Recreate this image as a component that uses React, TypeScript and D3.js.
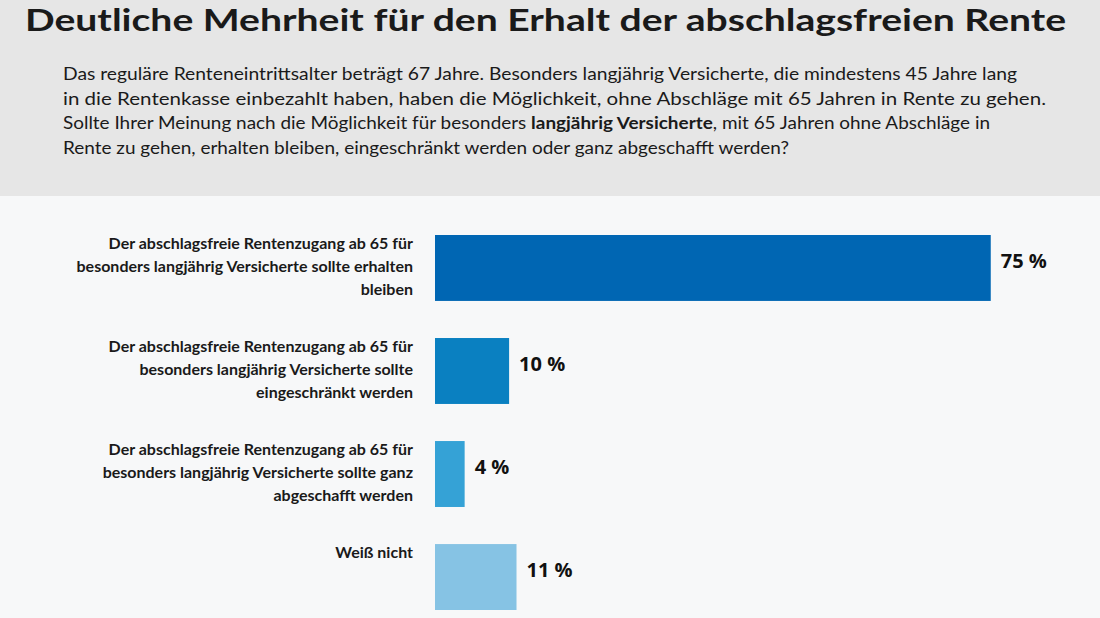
import React from "react";
import * as d3 from "d3";

const title = "Deutliche Mehrheit für den Erhalt der abschlagsfreien Rente";
const subtitleLines: { text: string; bold?: boolean }[][] = [
  [{ text: "Das reguläre Renteneintrittsalter beträgt 67 Jahre. Besonders langjährig Versicherte, die mindestens 45 Jahre lang" }],
  [{ text: "in die Rentenkasse einbezahlt haben, haben die Möglichkeit, ohne Abschläge mit 65 Jahren in Rente zu gehen." }],
  [
    { text: "Sollte Ihrer Meinung nach die Möglichkeit für besonders " },
    { text: "langjährig Versicherte", bold: true },
    { text: ", mit 65 Jahren ohne Abschläge in" },
  ],
  [{ text: "Rente zu gehen, erhalten bleiben, eingeschränkt werden oder ganz abgeschafft werden?" }],
];
const subtitleWidths = [954, 983, 927, 726];

const categories = [
  ["Der abschlagsfreie Rentenzugang ab 65 für", "besonders langjährig Versicherte sollte erhalten", "bleiben"],
  ["Der abschlagsfreie Rentenzugang ab 65 für", "besonders langjährig Versicherte sollte", "eingeschränkt werden"],
  ["Der abschlagsfreie Rentenzugang ab 65 für", "besonders langjährig Versicherte sollte ganz", "abgeschafft werden"],
  ["Weiß nicht"],
];
const values = [75, 10, 4, 11];
const colors = ["#0066b3", "#0a80c1", "#35a2d6", "#86c3e4"];

export default function App() {
  const W = 1100;
  const H = 618;
  const keys = categories.map((_, i) => String(i));
  const x = d3.scaleLinear().domain([0, 100]).range([435, 435 + 741]);
  const y = d3.scaleBand<string>().domain(keys).range([235, 610]).paddingInner(0.36).paddingOuter(0).align(0);

  return (
    <svg width={W} height={H} style={{ position: "absolute", left: 0, top: 0 }}>
      <rect x={0} y={0} width={W} height={H} fill="#f7f8f9" />
      <rect x={0} y={0} width={W} height={196} fill="#e6e6e6" />
      <text
        x={25}
        y={31}
        fontFamily="Lato, sans-serif"
        fontWeight={700}
        fontSize={31}
        fill="#1a1a1a"
        textLength={1041}
        lengthAdjust="spacingAndGlyphs"
      >
        {title}
      </text>
      {subtitleLines.map((line, i) => (
        <text
          key={i}
          x={63}
          y={80 + i * 24.5}
          fontFamily="Lato, sans-serif"
          fontSize={17.5}
          fill="#1a1a1a"
          textLength={subtitleWidths[i]}
          lengthAdjust="spacingAndGlyphs"
        >
          {line.map((seg, j) => (
            <tspan key={j} fontWeight={seg.bold ? 700 : 400}>
              {seg.text}
            </tspan>
          ))}
        </text>
      ))}
      {keys.map((k, i) => {
        const y0 = y(k)!;
        const bw = y.bandwidth();
        return (
          <g key={k}>
            <rect x={x(0)} y={y0} width={x(values[i]) - x(0)} height={bw} fill={colors[i]} />
            <text
              x={x(values[i]) + 10}
              y={y0 + bw / 2}
              fontFamily="'Open Sans', sans-serif"
              fontWeight={700}
              fontSize={20}
              fill="#111"
            >
              {values[i]} %
            </text>
            {categories[i].map((ln, j) => (
              <text
                key={j}
                x={413}
                y={y0 + 14 + j * 23}
                textAnchor="end"
                fontFamily="Lato, sans-serif"
                fontWeight={700}
                fontSize={16}
                fill="#1a1a1a"
              >
                {ln}
              </text>
            ))}
          </g>
        );
      })}
    </svg>
  );
}
